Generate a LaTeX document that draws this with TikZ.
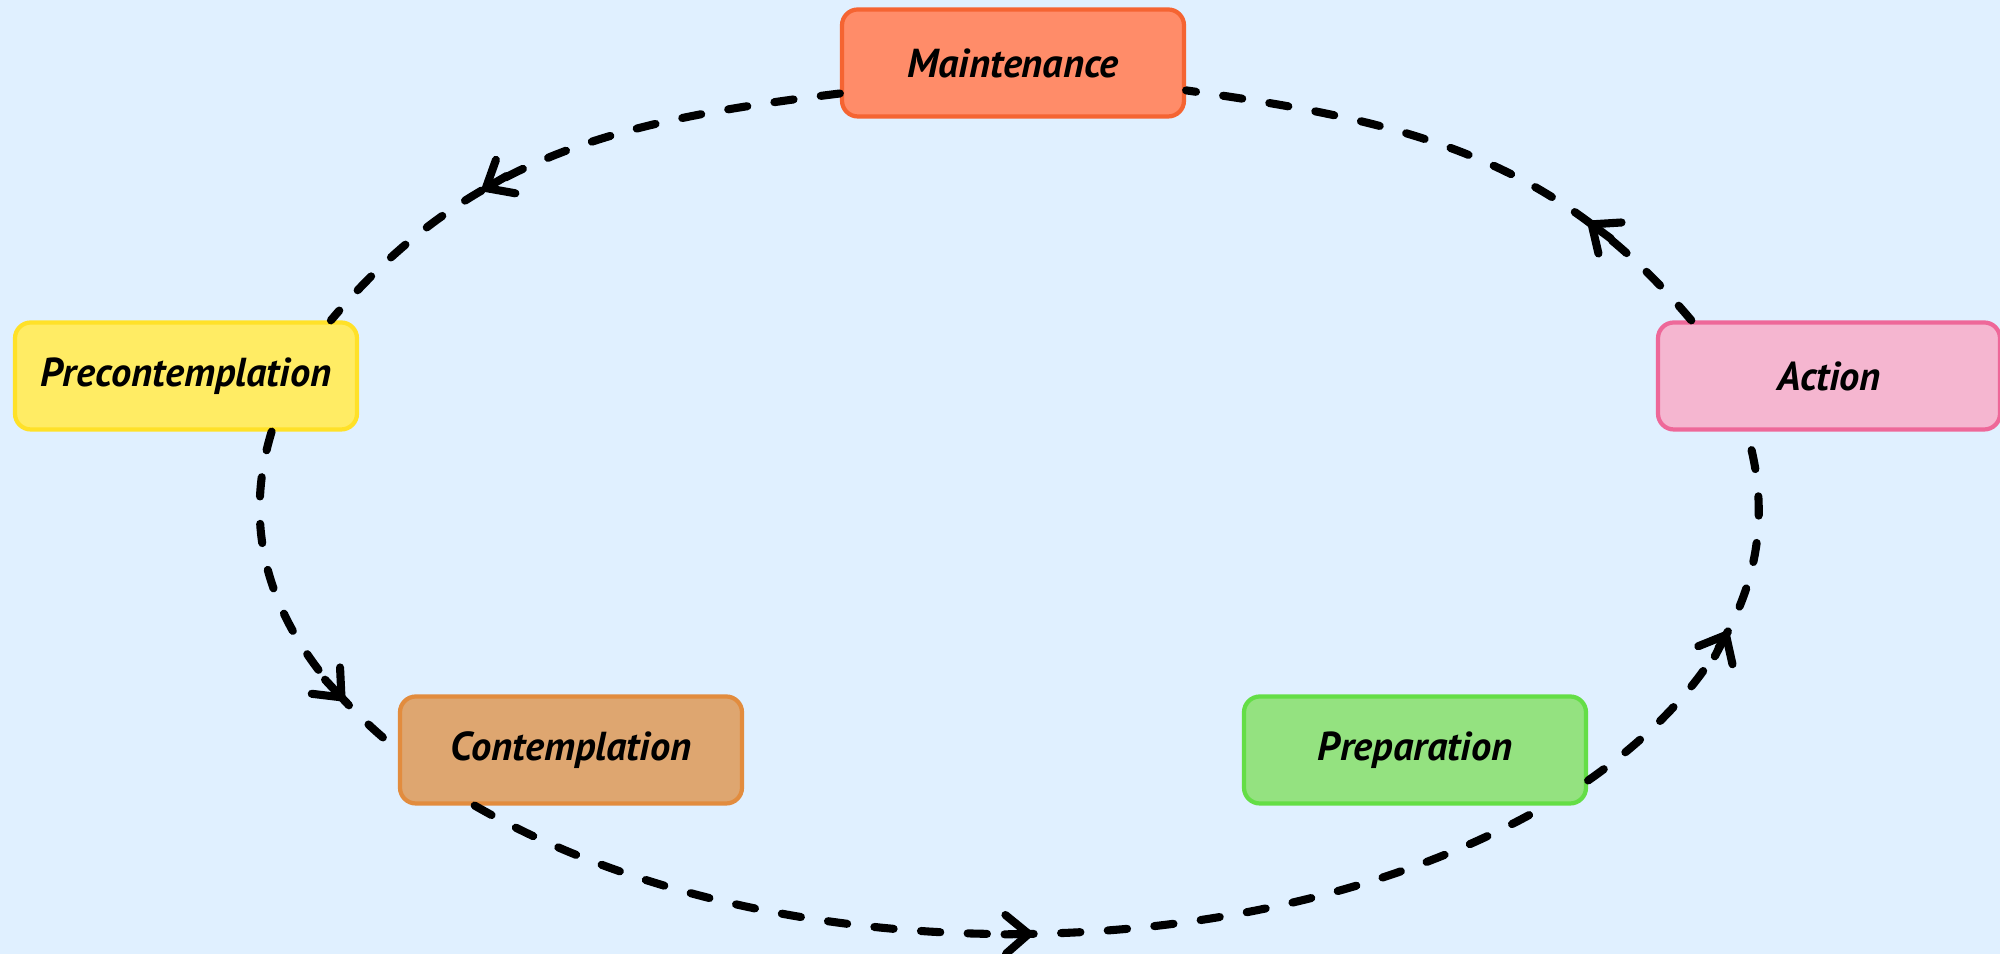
\documentclass[tikz,border=0pt]{standalone}
\usepackage{fontspec}
\setmainfont{PT Sans}
\usetikzlibrary{arrows.meta,decorations.markings}
\definecolor{bgblue}{RGB}{224,240,255}
\definecolor{maintfill}{RGB}{255,140,105}
\definecolor{maintline}{RGB}{245,100,50}
\definecolor{precfill}{RGB}{255,236,100}
\definecolor{precline}{RGB}{255,225,40}
\definecolor{contfill}{RGB}{222,166,112}
\definecolor{contline}{RGB}{226,140,62}
\definecolor{prepfill}{RGB}{148,226,128}
\definecolor{prepline}{RGB}{100,222,70}
\definecolor{actfill}{RGB}{245,182,208}
\definecolor{actline}{RGB}{238,104,153}
\begin{document}
\begin{tikzpicture}[
 stage/.style={draw, line width=1.2pt, rounded corners=4.5pt, minimum width=3.42cm, minimum height=1.07cm, font=\bfseries\itshape\fontsize{11.5}{14}\selectfont},
 flow/.style={line width=2.3pt, dash pattern=on 5.5pt off 7.8pt, line cap=round, postaction={decorate},
  decoration={markings, mark=at position #1 with {\draw[solid,-{Straight Barb[round,length=6.5pt,width=11pt]}] (-8pt,0) -- (0,0);}}}]
 \fill[bgblue] (0,0) rectangle (20,9.54);
 \useasboundingbox (0,0) rectangle (20,9.54);
 % stages
 \node[stage, fill=maintfill, draw=maintline] (maint) at (10.13,8.91) {Maintenance};
 \node[stage, fill=precfill, draw=precline] (precon) at (1.86,5.78) {Precontemplation};
 \node[stage, fill=contfill, draw=contline] (contemp) at (5.71,2.04) {Contemplation};
 \node[stage, fill=prepfill, draw=prepline] (prep) at (14.15,2.04) {Preparation};
 \node[stage, fill=actfill, draw=actline] (action) at (18.29,5.78) {Action};
 % cycle
 \draw[flow=0.65] (maint.190) to[out=187,in=50] (precon.21);
 \draw[flow=0.8] (precon.-33) to[out=253,in=141] (contemp.west);
 \draw[flow=0.52] (contemp.210) to[out=-30,in=210,looseness=0.82] (prep.-23);
 \draw[flow=0.5] (prep.-10) to[out=35,in=-73] (action.214);
 \draw[flow=0.25] (action.158) to[out=130,in=-8] (maint.-9);
\end{tikzpicture}
\end{document}
